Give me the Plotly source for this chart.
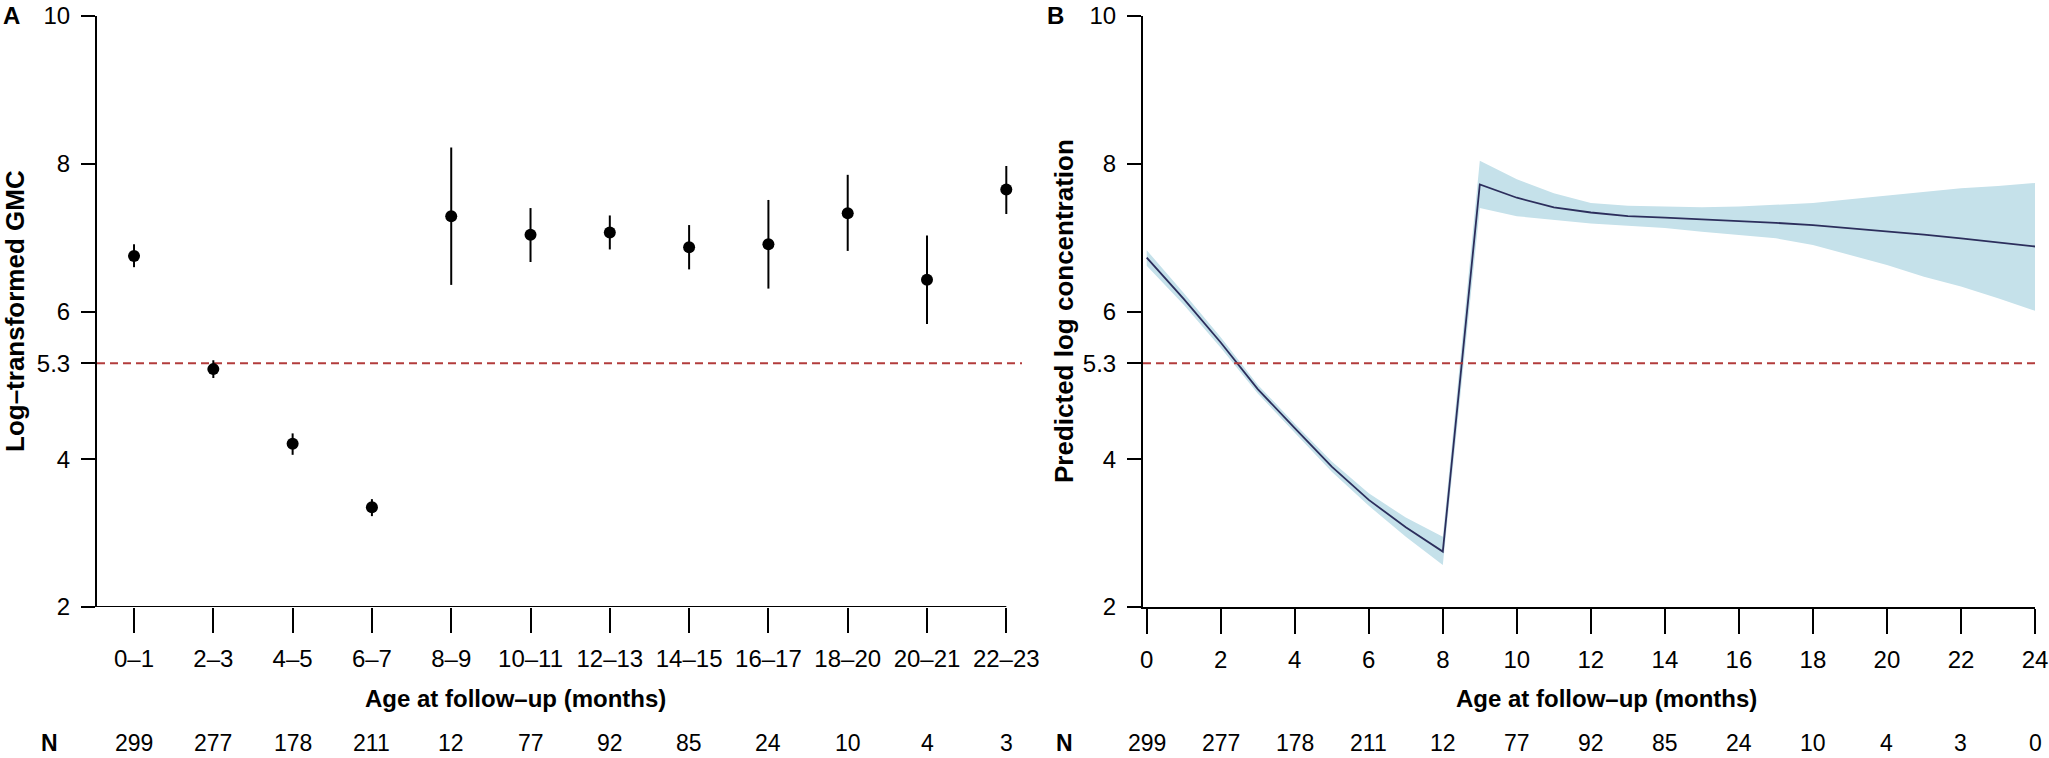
import plotly.graph_objects as go

# ---------------- data ----------------
cats = ["0–1", "2–3", "4–5", "6–7", "8–9", "10–11", "12–13", "14–15",
        "16–17", "18–20", "20–21", "22–23"]
gmc = [6.75, 5.22, 4.21, 3.35, 7.29, 7.04, 7.07, 6.87, 6.91, 7.33, 6.43, 7.65]
gmc_lo = [6.60, 5.10, 4.06, 3.23, 6.36, 6.67, 6.84, 6.57, 6.31, 6.82, 5.83, 7.32]
gmc_hi = [6.91, 5.34, 4.35, 3.46, 8.22, 7.40, 7.30, 7.17, 7.51, 7.85, 7.03, 7.97]
n_a = [299, 277, 178, 211, 12, 77, 92, 85, 24, 10, 4, 3]

months = list(range(0, 25))
pred = [6.73, 6.17, 5.58, 4.95, 4.42, 3.90, 3.45, 3.08, 2.75, 7.72, 7.54, 7.41,
        7.34, 7.29, 7.27, 7.25, 7.23, 7.20, 7.17, 7.13, 7.09, 7.04, 6.99, 6.93, 6.88]
pred_hi = [6.83, 6.25, 5.65, 5.01, 4.48, 3.97, 3.54, 3.21, 2.95, 8.04, 7.79, 7.60,
           7.47, 7.43, 7.42, 7.41, 7.42, 7.44, 7.47, 7.52, 7.57, 7.62, 7.67, 7.70, 7.74]
pred_lo = [6.62, 6.09, 5.51, 4.89, 4.36, 3.83, 3.37, 2.95, 2.57, 7.40, 7.29, 7.24,
           7.19, 7.16, 7.13, 7.08, 7.04, 6.99, 6.90, 6.77, 6.63, 6.47, 6.34, 6.18, 6.01]
b_ticks = list(range(0, 25, 2))
n_b = [299, 277, 178, 211, 12, 77, 92, 85, 24, 10, 4, 3, 0]

threshold = 5.3
y_ticks = [2, 4, 5.3, 6, 8, 10]
y_ticktext = ["2", "4", "5.3", "6", "8", "10"]

# ---------------- styling ----------------
W, H = 2049, 758
FONT = "Liberation Sans, Arial, Helvetica, sans-serif"
RED = "#b23c3c"
NAVY = "#2c2e5c"
BAND = "#c5e1ea"

def px_x(p):
    return p / W

def px_y(p):
    return 1 - p / H

xa_range = [-0.467, 11.198]
xb_range = [-0.1, 24]

fig = go.Figure()

# Panel A: means with CI
err_plus = [h - m for h, m in zip(gmc_hi, gmc)]
err_minus = [m - l for m, l in zip(gmc, gmc_lo)]
fig.add_trace(go.Scatter(
    x=list(range(len(cats))), y=gmc, mode="markers",
    marker=dict(color="black", size=12),
    error_y=dict(type="data", symmetric=False, array=err_plus, arrayminus=err_minus,
                 color="black", thickness=2, width=0),
    xaxis="x", yaxis="y", showlegend=False, hoverinfo="skip"))

# Panel B: band + line
fig.add_trace(go.Scatter(x=months, y=pred_lo, mode="lines", line=dict(width=0, color=BAND),
                         xaxis="x2", yaxis="y2", showlegend=False, hoverinfo="skip"))
fig.add_trace(go.Scatter(x=months, y=pred_hi, mode="lines", line=dict(width=0, color=BAND),
                         fill="tonexty", fillcolor=BAND,
                         xaxis="x2", yaxis="y2", showlegend=False, hoverinfo="skip"))
fig.add_trace(go.Scatter(x=months, y=pred, mode="lines", line=dict(width=1.8, color=NAVY),
                         xaxis="x2", yaxis="y2", showlegend=False, hoverinfo="skip"))

tickfont = dict(family=FONT, size=24, color="black")
common_y = dict(range=[2, 10], domain=[px_y(607), px_y(16)], tickvals=y_ticks,
                ticktext=y_ticktext, ticks="outside", ticklen=14, tickwidth=2,
                tickcolor="black", showline=True, linewidth=2, linecolor="black",
                showgrid=False, zeroline=False, tickfont=tickfont,
                ticklabelstandoff=6, automargin=False)

fig.update_layout(
    width=W, height=H,
    margin=dict(l=0, r=0, t=0, b=0, pad=0, autoexpand=False),
    paper_bgcolor="white", plot_bgcolor="white", showlegend=False,
    font=dict(family=FONT, color="black"),
    xaxis=dict(domain=[px_x(97), px_x(1022)], range=xa_range,
               tickvals=list(range(len(cats))), ticktext=cats,
               ticks="outside", ticklen=25, tickwidth=2, tickcolor="black",
               showline=False, showgrid=False, zeroline=False, tickfont=tickfont,
               ticklabelstandoff=5, anchor="y", automargin=False),
    yaxis=dict(anchor="x", **common_y),
    xaxis2=dict(domain=[px_x(1143), px_x(2035)], range=xb_range,
                tickvals=b_ticks, ticktext=[str(t) for t in b_ticks],
                ticks="outside", ticklen=25, tickwidth=2, tickcolor="black",
                showline=True, linewidth=2, linecolor="black",
                showgrid=False, zeroline=False, tickfont=tickfont,
                ticklabelstandoff=5, anchor="y2", automargin=False),
    yaxis2=dict(anchor="x2", **common_y),
)

# axis line for panel A (ends at last category, as in reference)
fig.add_shape(type="line", xref="x", yref="y", x0=xa_range[0], x1=len(cats) - 1,
              y0=2, y1=2, line=dict(color="black", width=2), layer="above")

# threshold lines
fig.add_shape(type="line", xref="x domain", yref="y", x0=0, x1=1, y0=threshold, y1=threshold,
              line=dict(color=RED, width=2, dash="8px,5px"), layer="below")
fig.add_shape(type="line", xref="x2 domain", yref="y2", x0=0, x1=1, y0=threshold, y1=threshold,
              line=dict(color=RED, width=2, dash="8px,5px"), layer="above")

ann = []
bold = lambda s: f"<b>{s}</b>"

def label(text, x, y, size, angle=0, xanchor="center", yanchor="middle"):
    ann.append(dict(text=text, x=px_x(x), y=px_y(y), xref="paper", yref="paper",
                    xanchor=xanchor, yanchor=yanchor, textangle=angle,
                    showarrow=False, font=dict(size=size)))

N_Y = 743
label(bold("A"), 1, 0, 24, xanchor="left", yanchor="top")
label(bold("B"), 1045, 0, 24, xanchor="left", yanchor="top")
label(bold("Log–transformed GMC"), 15, 311, 26, angle=-90)
label(bold("Predicted log concentration"), 1064, 311, 26, angle=-90)
label(bold("Age at follow–up (months)"), 515, 698, 24)
label(bold("Age at follow–up (months)"), 1606, 698, 24)
label(bold("N"), 49, N_Y, 23)
label(bold("N"), 1064, N_Y, 23)
for i, n in enumerate(n_a):
    ann.append(dict(text=str(n), x=i, xref="x", y=px_y(N_Y), yref="paper",
                    xanchor="center", yanchor="middle",
                    showarrow=False, font=dict(size=23)))
for t, n in zip(b_ticks, n_b):
    ann.append(dict(text=str(n), x=t, xref="x2", y=px_y(N_Y), yref="paper",
                    xanchor="center", yanchor="middle",
                    showarrow=False, font=dict(size=23)))
fig.update_layout(annotations=ann)

fig.write_html(
    "out.html",
    config={"displayModeBar": False},
    post_script="document.body.style.margin='0px';"
                "document.documentElement.style.overflow='hidden';",
)
